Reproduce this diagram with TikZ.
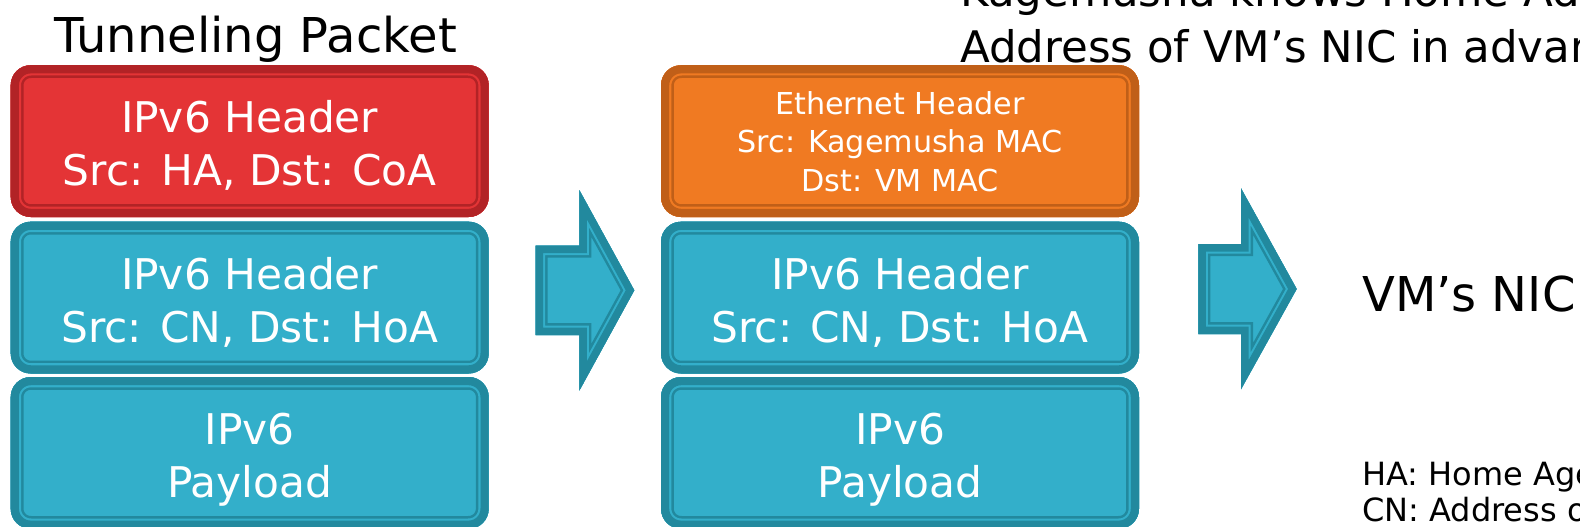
\documentclass[tikz,border=0pt]{standalone}
\usepackage{fontspec}
\setmainfont{DejaVu Sans}
\definecolor{redfill}{RGB}{228,52,54}
\definecolor{reddark}{RGB}{178,35,38}
\definecolor{bluefill}{RGB}{51,175,202}
\definecolor{bluedark}{RGB}{34,137,158}
\definecolor{orangefill}{RGB}{240,122,34}
\definecolor{orangedark}{RGB}{192,95,24}
\newcommand\tstr[1]{\rule{0pt}{#1}}
\newcommand\bstr[1]{\rule[-#1]{0pt}{#1}}
\newcommand\blockarrow[1]{%
  \begin{scope}
    \clip #1;
    \fill[bluefill] #1;
    \draw[bluedark, line width=24pt] #1;
    \draw[bluefill, line width=19pt] #1;
    \draw[bluedark, line width=15pt] #1;
  \end{scope}}
\tikzset{
  pkt/.style 2 args={rectangle, rounded corners=20pt, minimum width=478pt,
    minimum height=151.8pt, inner sep=0pt, align=center, text=white, fill=#1,
    path picture={
      \draw[#2, line width=25.6pt, rounded corners=20pt]
        (path picture bounding box.south west) rectangle (path picture bounding box.north east);
      \draw[#1, line width=20.6pt, rounded corners=20pt]
        (path picture bounding box.south west) rectangle (path picture bounding box.north east);
      \draw[#2, line width=16.4pt, rounded corners=20pt]
        (path picture bounding box.south west) rectangle (path picture bounding box.north east);
    }},
  bigtxt/.style={font=\fontsize{42.3pt}{53.3pt}\selectfont},
  smalltxt/.style={font=\fontsize{30.2pt}{38.7pt}\selectfont},
  plain/.style={inner sep=0pt, text=black},
}
\begin{document}
\begin{tikzpicture}[x=1pt, y=-1pt]
\useasboundingbox (0,0) rectangle (1580,527);
\clip (0,0) rectangle (1580,527);

% left column
\node[pkt={redfill}{reddark}, bigtxt] (ha) at (249.7,141.1)
  {\tstr{46.3pt}IPv6 Header\\Src: HA, Dst: CoA\bstr{10pt}};
\node[pkt={bluefill}{bluedark}, bigtxt] (cn1) at (249.7,297.6)
  {\tstr{46.3pt}IPv6 Header\\Src: CN, Dst: HoA\bstr{10pt}};
\node[pkt={bluefill}{bluedark}, bigtxt] (pl1) at (249.7,452.9)
  {\tstr{46.3pt}IPv6\\Payload\bstr{10pt}};

% middle column
\node[pkt={orangefill}{orangedark}, smalltxt] (eth) at (900,141.1)
  {\tstr{31.6pt}Ethernet Header\\Src: Kagemusha MAC\\Dst: VM MAC\bstr{8pt}};
\node[pkt={bluefill}{bluedark}, bigtxt] (cn2) at (900,297.6)
  {\tstr{46.3pt}IPv6 Header\\Src: CN, Dst: HoA\bstr{10pt}};
\node[pkt={bluefill}{bluedark}, bigtxt] (pl2) at (900,452.9)
  {\tstr{46.3pt}IPv6\\Payload\bstr{10pt}};

% block arrows
\blockarrow{(535.7,245.7) -- (579.3,245.7) -- (579.3,190) -- (634.3,290.3) -- (579.3,390.7) -- (579.3,335) -- (535.7,335) -- cycle}
\blockarrow{(1198.3,244) -- (1241,244) -- (1241,188.3) -- (1296.7,289) -- (1241,389.3) -- (1241,334) -- (1198.3,334) -- cycle}

% texts
\node[plain, anchor=base, font=\fontsize{48pt}{58pt}\selectfont] (title) at (255.5,52.5) {Tunneling Packet};
\node[plain, anchor=base west, font=\fontsize{43.5pt}{56pt}\selectfont] (note1) at (960,6.7) {Kagemusha knows Home Address};
\node[plain, anchor=base west, font=\fontsize{43.5pt}{56pt}\selectfont] (note2) at (960,62.7) {Address of VM’s NIC in advance};
\node[plain, anchor=base west, font=\fontsize{48pt}{58pt}\selectfont] (nic) at (1362,311) {VM’s NIC};
\node[plain, anchor=base west, font=\fontsize{32pt}{37pt}\selectfont] (leg1) at (1362,485) {HA: Home Agent};
\node[plain, anchor=base west, font=\fontsize{32pt}{37pt}\selectfont] (leg2) at (1362,521.7) {CN: Address of Correspondent Node};
\end{tikzpicture}
\end{document}
